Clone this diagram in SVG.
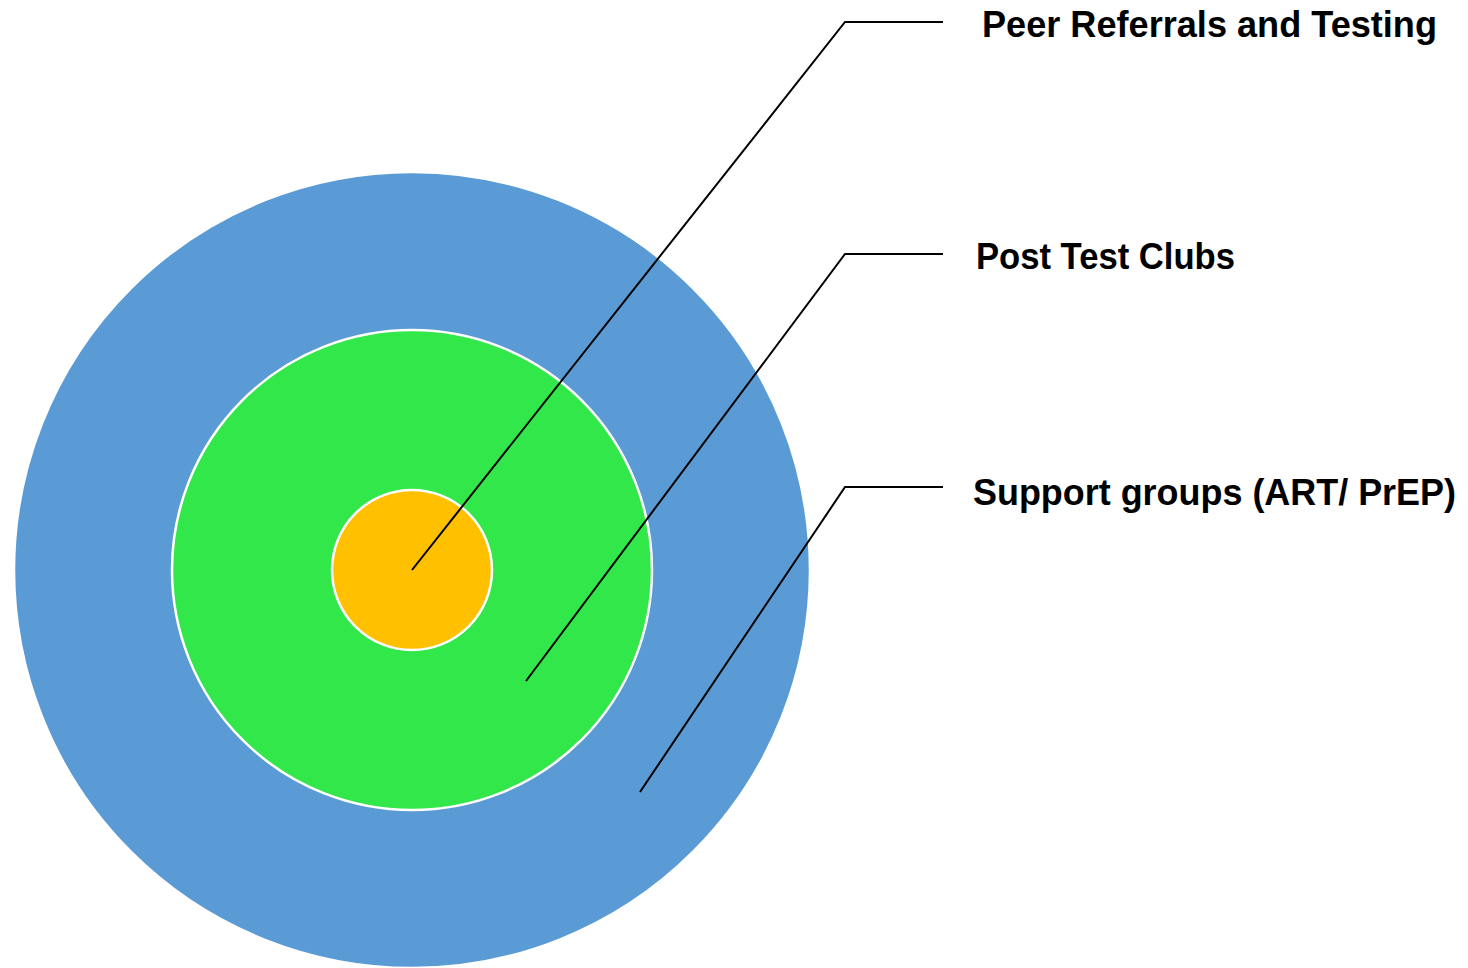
<svg xmlns="http://www.w3.org/2000/svg" width="1468" height="968" viewBox="0 0 1468 968">
<style>
.ring{stroke:#ffffff;stroke-width:2.5}
.lead{fill:none;stroke:#000000;stroke-width:2}
.lbl{font-family:"Liberation Sans",Arial,sans-serif;font-weight:bold;font-size:36px;fill:#000000}
</style>
<rect width="1468" height="968" fill="#ffffff"/>
<g id="outer"><circle class="ring" cx="412" cy="570" r="398" fill="#5B9BD5" stroke="none"/></g>
<g id="middle"><circle class="ring" cx="412" cy="570" r="240" fill="#32E74A"/></g>
<g id="inner"><circle class="ring" cx="412" cy="570" r="80" fill="#FFC000"/></g>
<g id="connectors">
<polyline class="lead" points="412,570 845,22 943,22"/>
<polyline class="lead" points="526,681 845,254 943,254"/>
<polyline class="lead" points="640,792 845,487 943,487"/>
</g>
<g id="labels">
<text class="lbl" x="982" y="37" textLength="455" lengthAdjust="spacingAndGlyphs">Peer Referrals and Testing</text>
<text class="lbl" x="976" y="269" textLength="259" lengthAdjust="spacingAndGlyphs">Post Test Clubs</text>
<text class="lbl" x="973" y="505" textLength="483" lengthAdjust="spacingAndGlyphs">Support groups (ART/ PrEP)</text>
</g>
</svg>
